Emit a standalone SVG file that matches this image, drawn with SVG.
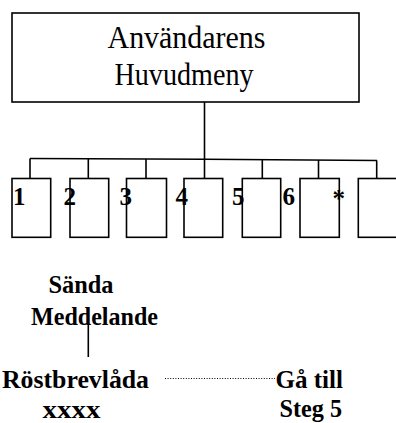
<svg xmlns="http://www.w3.org/2000/svg" width="396" height="423" viewBox="0 0 396 423">
<style>
.box{fill:#fff;stroke:#000;stroke-width:1.6}
.ln{stroke:#000;stroke-width:1.6;fill:none}
.dot{stroke:#000;stroke-width:1;stroke-dasharray:1 1.6;fill:none}
.t{font-family:"Liberation Serif","Times New Roman",serif;font-size:31px;fill:#000}
.b{font-family:"Liberation Serif","Times New Roman",serif;font-size:25px;font-weight:bold;fill:#000}
</style>
<rect width="396" height="423" fill="#fff"/>
<g id="connectors">
<line class="ln" x1="204.5" y1="102" x2="204.5" y2="178"/>
<polyline class="ln" points="30,158.5 204.5,159.3 377,160.5"/>
<line class="ln" x1="30" y1="158.5" x2="30" y2="178"/>
<line class="ln" x1="88.3" y1="158.8" x2="88.3" y2="178"/>
<line class="ln" x1="146" y1="159" x2="146" y2="178"/>
<line class="ln" x1="262.3" y1="159.6" x2="262.3" y2="178"/>
<line class="ln" x1="318.5" y1="160" x2="318.5" y2="178"/>
<line class="ln" x1="376.7" y1="160.5" x2="376.7" y2="178"/>
<line class="ln" x1="88.3" y1="323" x2="88.3" y2="357"/>
<line class="dot" x1="165" y1="378.5" x2="275" y2="378.5"/>
</g>
<g id="main">
<rect class="box" x="12" y="13" width="347" height="89"/>
<text class="t" x="107.5" y="47.5" textLength="158" lengthAdjust="spacingAndGlyphs">Användarens</text>
<text class="t" x="114.5" y="84.5" textLength="139" lengthAdjust="spacingAndGlyphs">Huvudmeny</text>
</g>
<g id="opt1"><rect class="box" x="12" y="178.5" width="38.7" height="58.8"/><text class="b" x="13" y="205">1</text></g>
<g id="opt2"><rect class="box" x="70" y="178.5" width="38.7" height="58.8"/><text class="b" x="63.5" y="205">2</text></g>
<g id="opt3"><rect class="box" x="126.5" y="178.5" width="40" height="58.8"/><text class="b" x="119.5" y="205">3</text></g>
<g id="opt4"><rect class="box" x="184" y="178.5" width="38.7" height="58.8"/><text class="b" x="175.5" y="205">4</text></g>
<g id="opt5"><rect class="box" x="242.3" y="178.5" width="38.4" height="58.8"/><text class="b" x="232" y="205">5</text></g>
<g id="opt6"><rect class="box" x="300" y="178.5" width="39.3" height="58.8"/><text class="b" x="282.5" y="205">6</text></g>
<g id="optstar"><rect class="box" x="358.3" y="178.5" width="40" height="58.8"/><text class="b" x="332.5" y="207">*</text></g>
<g id="sanda">
<text class="b" x="48.5" y="293" textLength="65" lengthAdjust="spacingAndGlyphs">Sända</text>
<text class="b" x="31" y="325" textLength="127" lengthAdjust="spacingAndGlyphs">Meddelande</text>
</g>
<g id="rostbrevlada">
<text class="b" x="2" y="388.3" textLength="147" lengthAdjust="spacingAndGlyphs">Röstbrevlåda</text>
<text class="b" x="42.5" y="418" textLength="58" lengthAdjust="spacingAndGlyphs">xxxx</text>
</g>
<g id="gatill">
<text class="b" x="275.5" y="388.3" textLength="67.5" lengthAdjust="spacingAndGlyphs">Gå till</text>
<text class="b" x="279.5" y="416.7" textLength="62.5" lengthAdjust="spacingAndGlyphs">Steg 5</text>
</g>
</svg>
